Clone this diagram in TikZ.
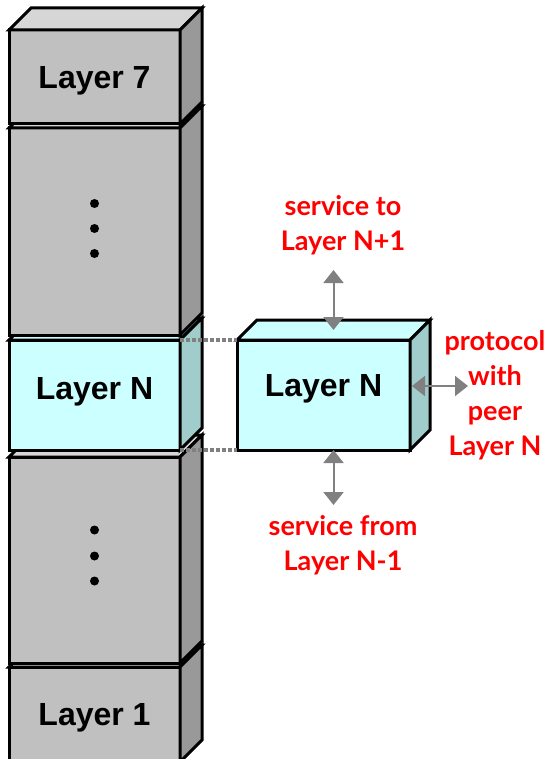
\documentclass[tikz,border=0pt]{standalone}
\usepackage{fontspec}
\setmainfont{Liberation Sans}
\newfontfamily\notefont{Lato}
\usetikzlibrary{arrows.meta,calc,positioning}
\definecolor{lyrgray}{RGB}{192,192,192}
\definecolor{lyrgrayside}{RGB}{153,153,153}
\definecolor{lyrgraytop}{RGB}{214,214,214}
\definecolor{lyrcyan}{RGB}{204,255,255}
\definecolor{lyrcyanside}{RGB}{160,204,204}
\definecolor{arrgray}{RGB}{128,128,128}

% top and side faces behind a front node: node, depth, top colour, side colour
\newcommand{\boxfaces}[4]{%
  \draw[faceline, fill=#3] (#1.north west) -- ++(#2,-#2) -- ($(#1.north east)+(#2,-#2)$) -- (#1.north east) -- cycle;
  \draw[faceline, fill=#4] (#1.north east) -- ++(#2,-#2) -- ($(#1.south east)+(#2,-#2)$) -- (#1.south east) -- cycle;
}

\begin{document}
\begin{tikzpicture}[x=1pt, y=-1pt,
    faceline/.style={line width=3pt, line join=miter},
    layer/.style={draw, line width=3pt, outer sep=0pt, inner sep=0pt, minimum width=171pt,
      text depth=0pt, font=\bfseries\fontsize{32}{38}\selectfont},
    redlbl/.style={text=red, align=center, font=\notefont\bfseries\fontsize{27}{35}\selectfont},
    svcarrow/.style={arrgray, line width=2pt,
      {Triangle[length=13pt,width=20pt]}-{Triangle[length=13pt,width=20pt]}},
    peerline/.style={arrgray, line width=3.5pt, dash pattern=on 3.5pt off 2.5pt}]
  \useasboundingbox (0,0) rectangle (547,759);

  % the stack, from the bottom up
  \node[layer, fill=lyrgray, minimum height=95pt] (l1) at (94.5,714.5) {Layer 1};
  \boxfaces{l1}{22}{lyrgraytop}{lyrgrayside}
  \node[layer, fill=lyrgray, minimum height=206pt] (d2) at (94.5,560) {};
  \boxfaces{d2}{22}{lyrgraytop}{lyrgrayside}
  \foreach \d in {-30,-4,21} \fill ($(d2)+(0,\d)$) circle (4.5pt);
  \node[layer, fill=lyrcyan, minimum height=110pt, text depth=14pt] (lns) at (94.5,395) {Layer N};
  \boxfaces{lns}{22}{lyrcyan}{lyrcyanside}
  \node[layer, fill=lyrgray, minimum height=207pt] (d1) at (94.5,231.5) {};
  \boxfaces{d1}{22}{lyrgraytop}{lyrgrayside}
  \foreach \d in {-28,-3,22} \fill ($(d1)+(0,\d)$) circle (4.5pt);
  \node[layer, fill=lyrgray, minimum height=94pt] (l7) at (94.5,77) {Layer 7};
  \boxfaces{l7}{22}{lyrgraytop}{lyrgrayside}

  % layer N on its own
  \node[layer, fill=lyrcyan, minimum width=173pt, minimum height=110pt, text depth=19pt] (rn) at (323.5,395) {Layer N};
  \boxfaces{rn}{20}{lyrcyan}{lyrcyanside}
  \draw[peerline] (lns.north east) -- (rn.north west);
  \draw[peerline] (lns.south east) -- (rn.south west);

  \coordinate (rtop) at ($(rn.north)+(10,-10)$);
  \coordinate (uptop) at (333.5,270);
  \coordinate (dnbot) at (333.5,505);
  \coordinate (peer) at (468,386);
  \draw[svcarrow] (uptop) -- (rtop);
  \draw[svcarrow] (rn.south -| rtop) -- (dnbot);
  \draw[svcarrow] ($(rn.east)+(2,-9)$) -- (peer);

  \node[redlbl] (svcto) at (343,225) {service to\\Layer N+1};
  \node[redlbl] (svcfrom) at (343,545) {service from\\Layer N-1};
  \node[redlbl] (proto) at (495,395) {protocol\\with\\peer\\Layer N};
\end{tikzpicture}
\end{document}
